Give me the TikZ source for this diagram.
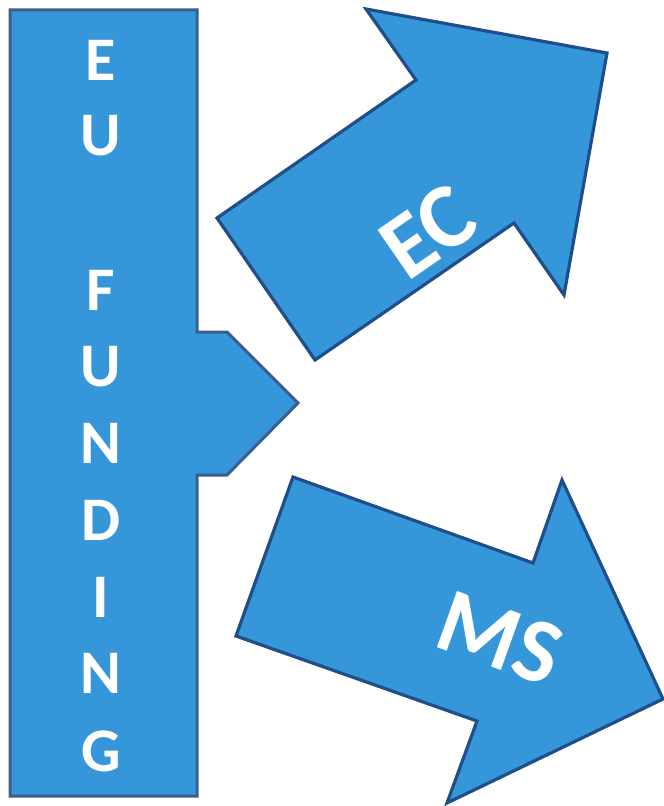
\documentclass[tikz,border=0pt]{standalone}
\usepackage{fontspec}
\setmainfont{Carlito}
\definecolor{panelfill}{RGB}{53,150,217}
\definecolor{baredge}{RGB}{58,95,140}
\definecolor{arrowedge}{RGB}{31,78,136}
\begin{document}
\begin{tikzpicture}[x=1bp,y=-1bp,
  barshape/.style={fill=panelfill,draw=baredge,line width=3bp,line join=miter},
  arrowshape/.style={fill=panelfill,draw=arrowedge,line width=3.2bp,line join=miter},
  barletter/.style={text=white,inner sep=0pt,font=\fontsize{62bp}{62bp}\bfseries},
  arrowlabel/.style={text=white,inner sep=0pt,font=\fontsize{92bp}{92bp}\bfseries}]
\useasboundingbox (0,0) rectangle (664,806);

% vertical funding bar with its pointed tab
\draw[barshape] (10,10) -- (197,10) -- (197,332) -- (227,332) -- (298,403)
  -- (227,475) -- (197,475) -- (197,796) -- (10,796) -- cycle;

% upper block arrow
\draw[arrowshape] (217,218) -- (416,80) -- (366,9) -- (607,53) -- (564,295)
  -- (514,223) -- (315,360) -- cycle;

% lower block arrow
\draw[arrowshape] (293,477) -- (533,563) -- (562,480) -- (663,699) -- (447,803)
  -- (477,721) -- (236,636) -- cycle;

% letters down the bar
\node[barletter] (e1) at (101,60)  {E};
\node[barletter] (u1) at (101,136) {U};
\node[barletter] (f)  at (101,290) {F};
\node[barletter] (u2) at (101,367) {U};
\node[barletter] (n1) at (101,443) {N};
\node[barletter] (d)  at (101,520) {D};
\node[barletter] (i)  at (101,597) {I};
\node[barletter] (n2) at (101,673) {N};
\node[barletter] (g)  at (101,751) {G};

% arrow labels
\node[arrowlabel,rotate=34.6] (ec) at (428,232) {EC};
\node[arrowlabel,rotate=-19.7] (ms) at (500,638) {MS};
\end{tikzpicture}
\end{document}
